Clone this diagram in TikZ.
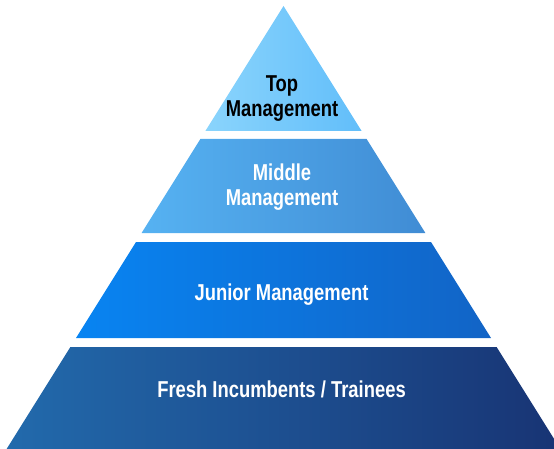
\documentclass[tikz,border=0pt]{standalone}
\usepackage{fontspec}
\newfontfamily\tierfont{Liberation Sans}[FakeStretch=0.8]
\begin{document}
\begin{tikzpicture}[x=1pt,y=-1pt,
  tierlabel/.style={align=center,inner sep=0pt,
    font=\tierfont\bfseries\fontsize{23}{24.5}\selectfont},
  whitetext/.style={tierlabel,text=white},
  blacktext/.style={tierlabel,text=black}]
\definecolor{topL}{RGB}{138,212,252}
\definecolor{topR}{RGB}{98,190,250}
\definecolor{midL}{RGB}{86,178,242}
\definecolor{midR}{RGB}{64,140,212}
\definecolor{junL}{RGB}{8,132,242}
\definecolor{junR}{RGB}{18,100,198}
\definecolor{basL}{RGB}{34,106,172}
\definecolor{basR}{RGB}{24,52,116}
\useasboundingbox (0,0) rectangle (554,449);
\clip (0,0) rectangle (554,449);
% pyramid tiers, apex at (283.5,6), sides with slope 0.625
\shade[left color=topL,right color=topR]
  (283.5,6) -- (361.6,131) -- (205.4,131) -- cycle;
\shade[left color=midL,right color=midR]
  (200.4,139) -- (366.6,139) -- (425.4,233) -- (141.6,233) -- cycle;
\shade[left color=junL,right color=junR]
  (136,242) -- (431,242) -- (491,338) -- (76,338) -- cycle;
\shade[left color=basL,right color=basR]
  (70.4,347) -- (496.6,347) -- (560.4,449) -- (6.6,449) -- cycle;
% tier labels
\node[blacktext] (top) at (282,98.5) {Top\\Management};
\node[whitetext] (middle) at (282,187) {Middle\\Management};
\node[whitetext] (junior) at (281.5,295) {Junior Management};
\node[whitetext] (fresh) at (281.5,389) {Fresh Incumbents / Trainees};
\end{tikzpicture}
\end{document}
